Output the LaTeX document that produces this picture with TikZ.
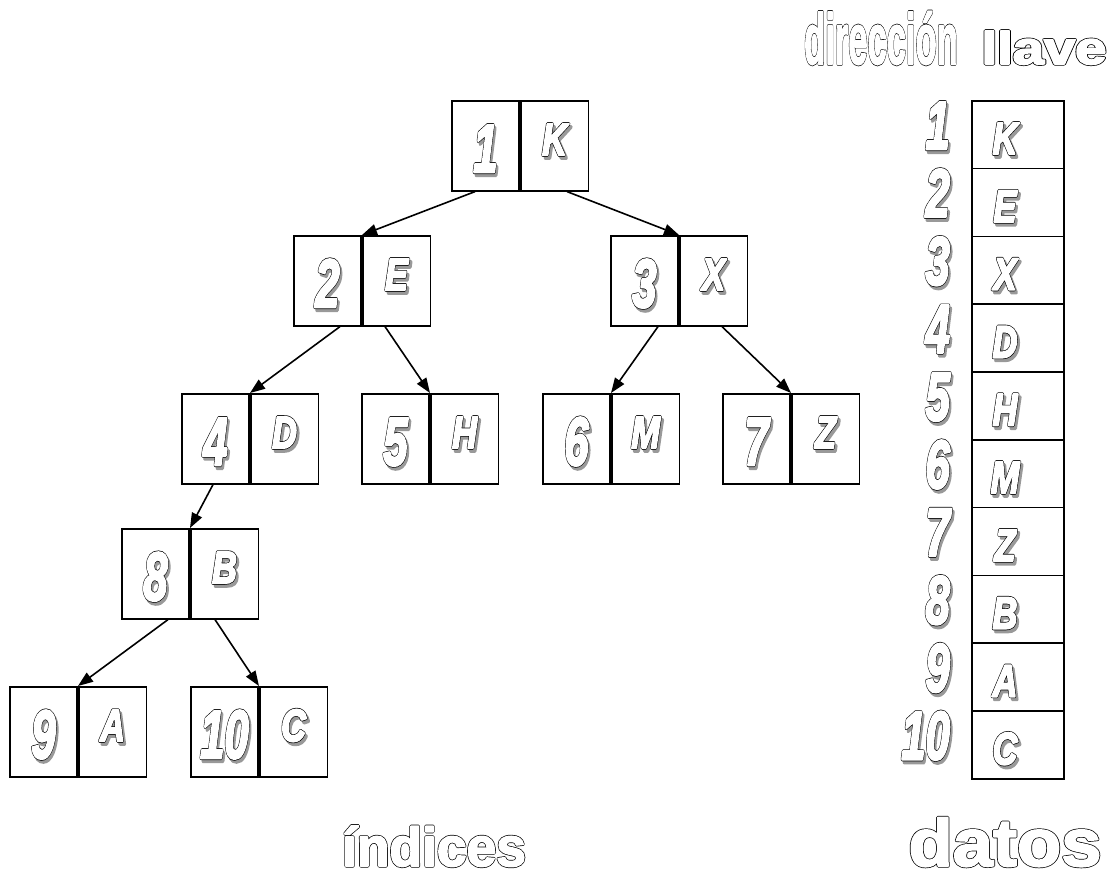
\documentclass[tikz,border=0pt]{standalone}
\usepackage{fontspec}
\setmainfont{Liberation Sans}
\usetikzlibrary{arrows.meta,calc}
% #1 black stroke width, #2 white stroke width, #3 text
\newcommand\olt[3]{\rlap{\special{pdf:literal 2 Tr 1 j 0 0 0 RG 0 0 0 rg #1 w}#3}{\color{white}\special{pdf:literal 2 Tr 1 j 1 1 1 RG 1 1 1 rg #2 w}#3}\special{pdf:literal 0 Tr 0 j}}
\newcommand\shd[3]{\leavevmode\rlap{\kern3pt\raisebox{-3pt}{{\color{black!40}\special{pdf:literal 2 Tr 1 j 0.6 0.6 0.6 RG 0.6 0.6 0.6 rg #1 w}#3\special{pdf:literal 0 Tr 0 j}}}}\olt{#1}{#2}{#3}}
\newcommand\Dg[1]{\scalebox{.64}[1]{\shd{4.2}{2.8}{#1}}}
\newcommand\Lt[1]{\scalebox{.76}[1]{\shd{3.6}{2.2}{#1}}}
\newcommand\Hd[1]{\olt{3.2}{1.8}{#1}}
\tikzset{
  cell/.style={draw, line width=1.6pt, minimum width=67.5pt, minimum height=90pt, inner sep=0pt, fill=white},
  rcell/.style={draw, line width=1.6pt, minimum width=92pt, minimum height=67.8pt, inner sep=0pt},
  dig/.style={anchor=base, inner sep=0pt, font=\fontsize{68}{68}\selectfont\bfseries\itshape},
  let/.style={anchor=base, inner sep=0pt, font=\fontsize{45}{45}\selectfont\bfseries\itshape},
  hdr/.style={anchor=base, inner sep=0pt, font=\bfseries},
  arr/.style={line width=1.6pt, -{Triangle[length=15pt,width=11pt]}}
}
\newcommand\tnode[5]{%
  \node[cell,anchor=north east] (#1l) at (#2,#3) {};
  \node[cell,anchor=north west] (#1r) at (#2,#3) {};
  \node[dig] (#1n) at ($(#1l.north)+(0,72)$) {\Dg{#4}};
  \node[let] (#1k) at ($(#1r.north)+(0,55)$) {\Lt{#5}};
}
\begin{document}
\begin{tikzpicture}[x=1pt,y=-1pt]
\useasboundingbox (0,0) rectangle (1115,881);
% tree
\tnode{n1}{520}{100}{1}{K}
\tnode{n2}{362}{235}{2}{E}
\tnode{n3}{679}{235}{3}{X}
\tnode{n4}{250}{393}{4}{D}
\tnode{n5}{430}{393}{5}{H}
\tnode{n6}{611}{393}{6}{M}
\tnode{n7}{791}{393}{7}{Z}
\tnode{n8}{190}{528}{8}{B}
\tnode{n9}{78}{686}{9}{A}
\tnode{n10}{259}{686}{10}{C}
\draw[arr] ($(n1l.south east)+(-45,0)$) -- (n2l.north east);
\draw[arr] ($(n1l.south east)+(47,0)$) -- (n3l.north east);
\draw[arr] ($(n2l.south east)+(-22,0)$) -- (n4l.north east);
\draw[arr] ($(n2l.south east)+(23,0)$) -- (n5l.north east);
\draw[arr] ($(n3l.south east)+(-21,0)$) -- (n6l.north east);
\draw[arr] ($(n3l.south east)+(43,0)$) -- (n7l.north east);
\draw[arr] ($(n4l.south east)+(-37,0)$) -- (n8l.north east);
\draw[arr] ($(n8l.south east)+(-22,0)$) -- (n9l.north east);
\draw[arr] ($(n8l.south east)+(25,0)$) -- (n10l.north east);
% table
\foreach \i/\lt in {1/K,2/E,3/X,4/D,5/H,6/M,7/Z,8/B,9/A,10/C}{
  \pgfmathsetmacro\t{100+(\i-1)*67.8}
  \node[rcell,anchor=north west] (r\i) at (971,\t) {};
  \node[dig,anchor=base east] (rn\i) at (950,\t+49) {\Dg{\i}};
  \node[let] (rk\i) at (1005,\t+54) {\Lt{\lt}};
}
% headers
\node[hdr, font=\fontsize{72}{72}\selectfont\bfseries] (hdir) at (881,64) {\scalebox{.48}[1]{\Hd{dirección}}};
\node[hdr, font=\fontsize{46}{46}\selectfont\bfseries] (hllave) at (1044,64) {\scalebox{1.22}[1]{\Hd{llave}}};
\node[hdr, font=\fontsize{55}{55}\selectfont\bfseries] (hind) at (434,866) {\scalebox{.97}[1]{\Hd{índices}}};
\node[hdr, font=\fontsize{67}{67}\selectfont\bfseries] (hdat) at (1005,866) {\scalebox{1.08}[1]{\Hd{datos}}};
\end{tikzpicture}
\end{document}
